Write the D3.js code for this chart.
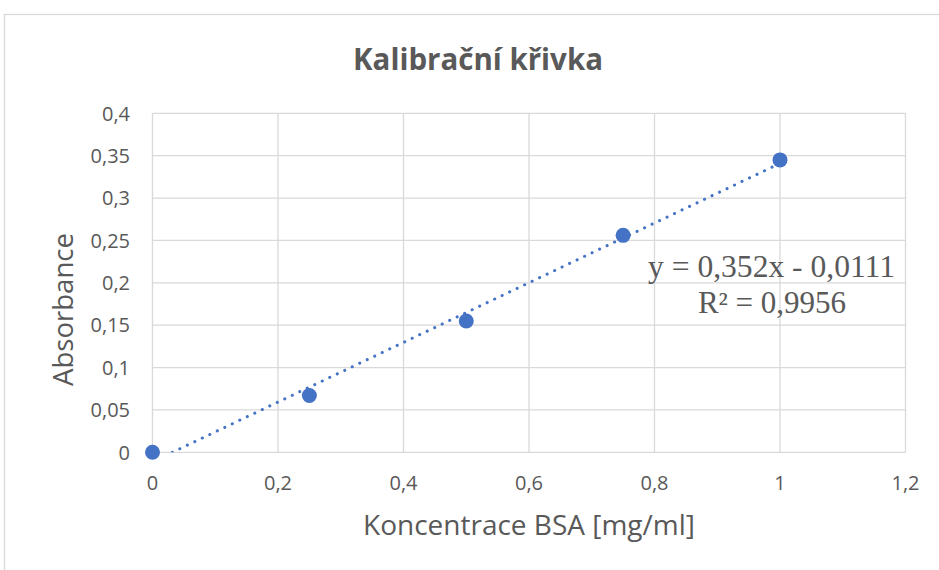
<!DOCTYPE html>
<html><head><meta charset="utf-8">
<script src="https://cdn.jsdelivr.net/npm/d3@7"></script>
<style>body{margin:0;background:#fff}svg{display:block}</style>
</head><body>
<svg id="c" width="939" height="570"></svg>
<script>
const xs = [0, 0.25, 0.5, 0.75, 1];
const ys = [0, 0.067, 0.155, 0.256, 0.345];
const xTicks = [0, 0.2, 0.4, 0.6, 0.8, 1, 1.2];
const yTicks = [0, 0.05, 0.1, 0.15, 0.2, 0.25, 0.3, 0.35, 0.4];
const slope = 0.352, intercept = -0.0111;
const title = "Kalibrační křivka";
const xTitle = "Koncentrace BSA [mg/ml]";
const yTitle = "Absorbance";
const eq1 = "y = 0,352x - 0,0111";
const eq2 = "R² = 0,9956";

const svg = d3.select("#c");
const fmt = v => String(+v.toFixed(2)).replace(".", ",");
const x = d3.scaleLinear().domain([0, 1.2]).range([152.5, 905.5]);
const y = d3.scaleLinear().domain([0, 0.4]).range([452.3, 113.3]);
const grey = "#595959";

svg.append("rect").attr("x", 4.5).attr("y", 14.5).attr("width", 960).attr("height", 600)
  .attr("fill", "#fff").attr("stroke", "#d9d9d9").attr("stroke-width", 1.3);

svg.append("text").attr("x", 478).attr("y", 69.5).attr("text-anchor", "middle")
  .attr("font-family", "Open Sans").attr("font-weight", 700).attr("font-size", 31)
  .attr("fill", grey).attr("textLength", 250).attr("lengthAdjust", "spacingAndGlyphs").text(title);

const g = svg.append("g");
g.selectAll(".gx").data(xTicks).join("line")
  .attr("x1", d => x(d)).attr("x2", d => x(d)).attr("y1", y(0.4)).attr("y2", y(0))
  .attr("stroke", "#d9d9d9").attr("stroke-width", 1.3);
g.selectAll(".gy").data(yTicks).join("line")
  .attr("y1", d => y(d)).attr("y2", d => y(d)).attr("x1", x(0)).attr("x2", x(1.2))
  .attr("stroke", "#d9d9d9").attr("stroke-width", 1.3);

g.selectAll(".tx").data(xTicks).join("text")
  .attr("x", d => x(d)).attr("y", 490).attr("text-anchor", "middle")
  .attr("font-family", "Open Sans").attr("font-size", 20).attr("fill", grey).text(fmt);
g.selectAll(".ty").data(yTicks).join("text")
  .attr("x", 130).attr("y", d => y(d) + 7.3).attr("text-anchor", "end")
  .attr("font-family", "Open Sans").attr("font-size", 20).attr("fill", grey).text(fmt);

svg.append("text").attr("x", 529).attr("y", 535).attr("text-anchor", "middle")
  .attr("font-family", "Open Sans").attr("font-size", 28).attr("fill", grey)
  .attr("textLength", 332).attr("lengthAdjust", "spacingAndGlyphs").text(xTitle);
svg.append("text").attr("transform", "translate(73,309.5) rotate(-90)").attr("text-anchor", "middle")
  .attr("font-family", "Open Sans").attr("font-size", 28).attr("fill", grey)
  .attr("textLength", 153).attr("lengthAdjust", "spacingAndGlyphs").text(yTitle);

svg.append("clipPath").attr("id", "pc").append("rect")
  .attr("x", x(0)).attr("y", y(0.4)).attr("width", x(1.2) - x(0)).attr("height", y(0) - y(0.4));

const x0 = -intercept / slope;
const line = d3.line().x(d => x(d[0])).y(d => y(d[1]));
svg.append("path").datum([[x0, 0], [1, slope + intercept]]).attr("d", line)
  .attr("fill", "none").attr("stroke", "#4472C4").attr("stroke-width", 3)
  .attr("stroke-linecap", "round").attr("stroke-dasharray", "0.1 8.2").attr("clip-path", "url(#pc)");

svg.selectAll(".pt").data(xs).join("circle")
  .attr("cx", d => x(d)).attr("cy", (d, i) => y(ys[i])).attr("r", 7.5).attr("fill", "#4472C4");

svg.append("text").attr("x", 771.5).attr("y", 277).attr("text-anchor", "middle")
  .attr("font-family", "Liberation Serif").attr("font-size", 31).attr("fill", grey)
  .attr("textLength", 247).attr("lengthAdjust", "spacingAndGlyphs").text(eq1);
svg.append("text").attr("x", 772).attr("y", 312.7).attr("text-anchor", "middle")
  .attr("font-family", "Liberation Serif").attr("font-size", 31).attr("fill", grey).text(eq2);
</script>
</body></html>
